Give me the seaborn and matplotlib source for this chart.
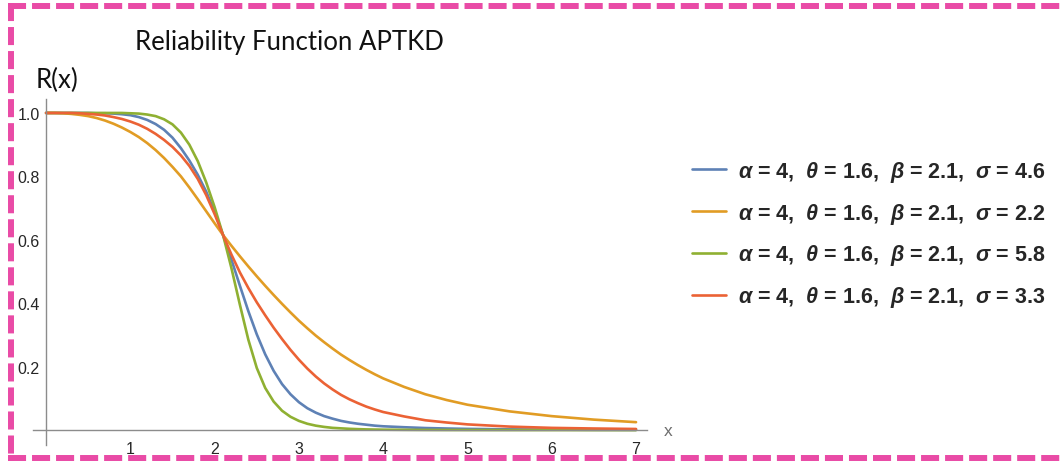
import matplotlib
matplotlib.use("Agg")
import matplotlib.pyplot as plt
from matplotlib.lines import Line2D
from matplotlib.ticker import FixedLocator
import numpy as np
import pandas as pd
import seaborn as sns

# Shared x grid and reliability values R(x) for each sigma
x_vals = [0.0, 0.1, 0.2, 0.3, 0.4, 0.5, 0.6, 0.7, 0.8, 0.9,
          1.0, 1.1, 1.2, 1.3, 1.4, 1.5, 1.6, 1.7, 1.8, 1.9,
          2.0, 2.1, 2.2, 2.3, 2.4, 2.5, 2.6, 2.7, 2.8, 2.9,
          3.0, 3.1, 3.2, 3.3, 3.4, 3.5, 3.6, 3.7, 3.8, 3.9,
          4.0, 4.25, 4.5, 4.75, 5.0, 5.5, 6.0, 6.5, 7.0]

r_sigma_4_6 = [1.0, 1.0, 1.0, 1.0, 1.0, 1.0, 0.999, 0.999, 0.998, 0.996,
               0.993, 0.987, 0.978, 0.965, 0.947, 0.922, 0.889, 0.85, 0.805, 0.752,
               0.688, 0.615, 0.537, 0.455, 0.375, 0.302, 0.239, 0.187, 0.145, 0.113,
               0.088, 0.069, 0.055, 0.044, 0.036, 0.029, 0.024, 0.02, 0.017, 0.014,
               0.012, 0.009, 0.0065, 0.005, 0.0038, 0.0023, 0.0015, 0.001, 0.0007]
r_sigma_2_2 = [1.0, 1.0, 0.999, 0.997, 0.994, 0.99, 0.984, 0.976, 0.966, 0.954,
               0.94, 0.924, 0.905, 0.883, 0.858, 0.83, 0.80, 0.765, 0.728, 0.69,
               0.652, 0.615, 0.581, 0.548, 0.516, 0.485, 0.455, 0.426, 0.398, 0.371,
               0.345, 0.321, 0.298, 0.277, 0.257, 0.238, 0.221, 0.205, 0.19, 0.176,
               0.163, 0.136, 0.113, 0.095, 0.08, 0.059, 0.044, 0.033, 0.025]
r_sigma_5_8 = [1.0, 1.0, 1.0, 1.0, 1.0, 1.0, 1.0, 1.0, 1.0, 1.0,
               0.999, 0.998, 0.995, 0.99, 0.98, 0.964, 0.938, 0.90, 0.848, 0.781,
               0.703, 0.615, 0.51, 0.395, 0.285, 0.196, 0.133, 0.09, 0.061, 0.042,
               0.029, 0.02, 0.014, 0.01, 0.007, 0.0055, 0.004, 0.003, 0.0022, 0.0017,
               0.0013, 0.0008, 0.0005, 0.0003, 0.0002, 0.0001, 0.0001, 0.0, 0.0]
r_sigma_3_3 = [1.0, 1.0, 1.0, 1.0, 0.999, 0.997, 0.995, 0.992, 0.987, 0.981,
               0.973, 0.963, 0.95, 0.934, 0.915, 0.893, 0.866, 0.833, 0.792, 0.741,
               0.681, 0.615, 0.553, 0.497, 0.448, 0.403, 0.362, 0.323, 0.287, 0.253,
               0.222, 0.194, 0.169, 0.147, 0.128, 0.111, 0.097, 0.085, 0.074, 0.065,
               0.057, 0.043, 0.031, 0.024, 0.018, 0.011, 0.007, 0.005, 0.0035]

sigmas = ["4.6", "2.2", "5.8", "3.3"]
series = [r_sigma_4_6, r_sigma_2_2, r_sigma_5_8, r_sigma_3_3]
colors = ["#5E81B5", "#E19C24", "#8FB032", "#EB6235"]

x_ticks = [1, 2, 3, 4, 5, 6, 7]
y_ticks = [0.2, 0.4, 0.6, 0.8, 1.0]

labels = [rf"$\alpha$ = 4,  $\theta$ = 1.6,  $\beta$ = 2.1,  $\sigma$ = {s}"
          for s in sigmas]

df = pd.DataFrame({
    "x": np.tile(x_vals, len(series)),
    "R": np.concatenate(series),
    "curve": np.repeat(labels, len(x_vals)),
})

sns.set_theme(style="white")
plt.rcParams["font.family"] = ["Liberation Sans", "DejaVu Sans"]
plt.rcParams["mathtext.fontset"] = "custom"
plt.rcParams["mathtext.it"] = "Liberation Sans:italic:bold"
plt.rcParams["mathtext.rm"] = "Liberation Sans:bold"
plt.rcParams["mathtext.bf"] = "Liberation Sans:bold"

W, H = 1060, 464
fig = plt.figure(figsize=(W / 100, H / 100), dpi=100)
fig.patch.set_facecolor("white")
ax = fig.add_axes([33 / W, 18 / H, 614 / W, 346 / H])
ax.set_facecolor("white")

sns.lineplot(data=df, x="x", y="R", hue="curve", hue_order=labels,
             palette=colors, linewidth=1.9, ax=ax, legend=True)
for ln in ax.get_lines():
    ln.set_solid_joinstyle("round")

ax.set_xlim(-0.155, 7.13)
ax.set_ylim(-0.047, 1.044)

axis_grey = "#8c8c8c"
for side in ("top", "right"):
    ax.spines[side].set_visible(False)
for side in ("left", "bottom"):
    ax.spines[side].set_position(("data", 0))
    ax.spines[side].set_color(axis_grey)
    ax.spines[side].set_linewidth(1.0)

ax.xaxis.set_major_locator(FixedLocator(x_ticks))
ax.xaxis.set_minor_locator(FixedLocator(
    [v / 5 for v in range(1, 36) if v % 5 != 0]))
ax.yaxis.set_major_locator(FixedLocator(y_ticks))
ax.yaxis.set_minor_locator(FixedLocator(
    [v / 20 for v in range(1, 20) if v % 4 != 0]))
ax.set_xticklabels([str(v) for v in x_ticks])
ax.set_yticklabels([f"{v:.1f}" for v in y_ticks])

ax.tick_params(axis="both", which="major", direction="in", length=4.8,
               width=0.9, color=axis_grey, labelsize=11.5, labelcolor="#262626")
ax.tick_params(axis="both", which="minor", direction="in", length=2.5,
               width=0.8, color=axis_grey)
ax.tick_params(axis="x", which="major", pad=7.5)
ax.tick_params(axis="y", which="major", pad=4.5)
ax.set_xlabel("")
ax.set_ylabel("")

ax.text(7.38, 0.0, "x", fontsize=12.5, color="#6e6e6e", ha="center",
        va="center", clip_on=False)

# Legend to the right of the plot
handles, lbls = ax.get_legend_handles_labels()
ax.legend(handles, lbls, loc="center left",
          bbox_to_anchor=(692 / W, (H - 235) / H),
          bbox_transform=fig.transFigure, frameon=False,
          prop={"weight": "bold", "size": 15.5},
          handlelength=1.6, handletextpad=0.52, labelspacing=0.78,
          borderpad=0, borderaxespad=0)
for ln in ax.get_legend().get_lines():
    ln.set_linewidth(1.9)

# Headings
fig.text(135 / W, (H - 50) / H, "Reliability Function APTKD", fontsize=18.5,
         family="Lato", color="#111111", ha="left", va="baseline")
fig.text(36 / W, (H - 88) / H, "R(x)", fontsize=18.5, family="Lato",
         color="#111111", ha="left", va="baseline")

# Dashed pink frame
pink = "#E94BA6"
plt.rcParams["lines.scale_dashes"] = False
frame_lines = [
    ([8 / W, 1.0], [(H - 7) / H, (H - 7) / H]),
    ([11 / W, 11 / W], [(H - 4) / H, 2 / H]),
    ([8 / W, 1.0], [5 / H, 5 / H]),
]
for xs, ys in frame_lines:
    ln = Line2D(xs, ys, transform=fig.transFigure, color=pink, linewidth=4.3,
                solid_capstyle="butt", dash_capstyle="butt")
    ln.set_dashes((13.0, 4.3))
    fig.add_artist(ln)

fig.savefig("out.png", dpi=100, facecolor="white")
